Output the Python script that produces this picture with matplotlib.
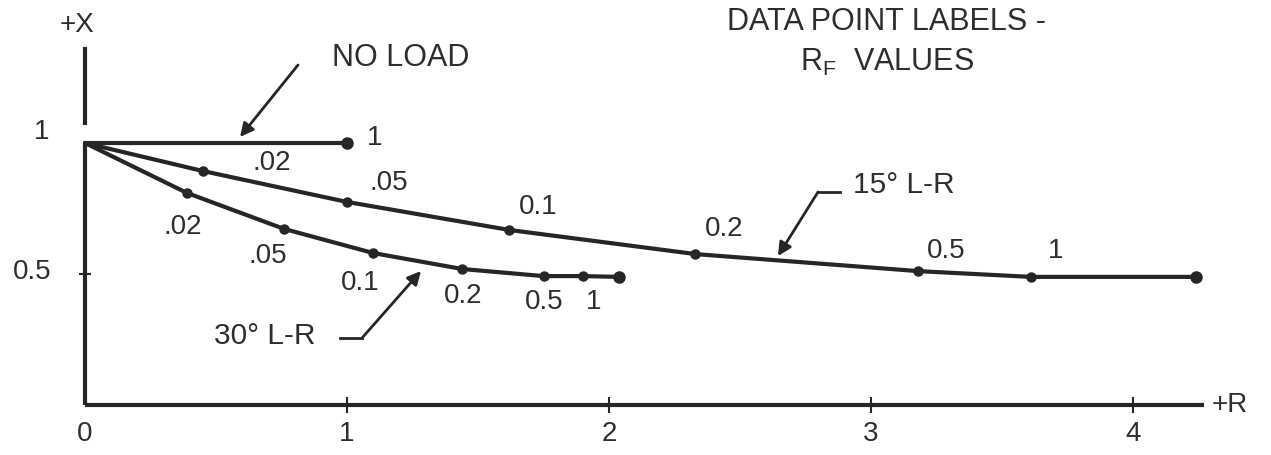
import matplotlib.pyplot as plt

plt.rcParams['font.family'] = ['Liberation Sans', 'DejaVu Sans']

# R / X coordinates of each curve (start point at (0, 1), last point is the end of the line)
r_noload = [0.0, 1.0]
x_noload = [1.0, 1.0]

r_15 = [0.0, 0.45, 1.00, 1.62, 2.33, 3.18, 3.61, 4.24]
x_15 = [1.0, 0.893, 0.775, 0.668, 0.576, 0.511, 0.489, 0.489]

r_30 = [0.0, 0.39, 0.76, 1.10, 1.44, 1.75, 1.90, 2.04]
x_30 = [1.0, 0.809, 0.672, 0.580, 0.519, 0.492, 0.492, 0.489]

# R_F labels for the intermediate points
rf_labels = ['.02', '.05', '0.1', '0.2', '0.5', '1']

x_ticks = [0, 1, 2, 3, 4]
y_ticks = [0.5, 1]

ink = '#262626'
txt = '#2e2e2e'
W, H = 1271, 455

fig = plt.figure(figsize=(W / 100, H / 100), dpi=100)
ax = fig.add_axes([0, 0, 1, 1])
ax.set_xlim(-85 / 262, (W - 85) / 262)
ax.set_ylim((405 - H) / 262, 405 / 262)
ax.axis('off')

# axes drawn by hand (the vertical one has a small gap just above X = 1)
ax.plot([0, 4.27], [0, 0], color=ink, lw=3, solid_capstyle='butt')
ax.plot([0, 0], [0, 1.0], color=ink, lw=3, solid_capstyle='butt')
ax.plot([0, 0], [1.07, 1.366], color=ink, lw=3, solid_capstyle='butt')
ax.plot(x_ticks[1:], [0] * 4, ls='none', marker='|', ms=11, mew=1.5, color=ink)
ax.plot([0], [0.5], ls='none', marker='_', ms=9, mew=1.5, color=ink)

for t in x_ticks:
    ax.annotate(str(t), (t, 0), xytext=(0, -29), textcoords='offset pixels',
                ha='center', va='center', fontsize=20, color=txt)
ax.annotate('1', (0, 1), xytext=(-43, 11), textcoords='offset pixels',
            ha='center', va='center', fontsize=20, color=txt)
ax.annotate('0.5', (0, 0.5), xytext=(-53, 2), textcoords='offset pixels',
            ha='center', va='center', fontsize=20, color=txt)
ax.annotate('+R', (4.27, 0), xytext=(8, 0), textcoords='offset pixels',
            ha='left', va='center', fontsize=20, color=txt)
ax.annotate('+X', (0, 1.366), xytext=(-8, 22), textcoords='offset pixels',
            ha='center', va='center', fontsize=20, color=txt)

# curves
for r, x in [(r_noload, x_noload), (r_15, x_15), (r_30, x_30)]:
    ax.plot(r, x, color=ink, lw=3, solid_capstyle='round')
    ax.plot(r[1:-1], x[1:-1], ls='none', marker='o', ms=6.5, color=ink)
    ax.plot(r[-1:], x[-1:], ls='none', marker='o', ms=8, color=ink)

off_15 = [(69, 8), (42, 19), (29, 23), (29, 25), (28, 20), (25, 26)]
off_30 = [(-4, -34), (-16, -27), (-13, -30), (1, -27), (1, -26), (11, -26)]
for lab, r, x, o in zip(rf_labels, r_15[1:-1], x_15[1:-1], off_15):
    ax.annotate(lab, (r, x), xytext=o, textcoords='offset pixels',
                ha='center', va='center', fontsize=20, color=txt)
for lab, r, x, o in zip(rf_labels, r_30[1:-1], x_30[1:-1], off_30):
    ax.annotate(lab, (r, x), xytext=o, textcoords='offset pixels',
                ha='center', va='center', fontsize=20, color=txt)
ax.annotate('1', (r_noload[-1], x_noload[-1]), xytext=(28, 5), textcoords='offset pixels',
            ha='center', va='center', fontsize=20, color=txt)

# text blocks and leaders (figure pixels, origin bottom-left)
def fp(px, py):
    return (px, H - py)

arrow = dict(arrowstyle='-|>', lw=2, color=ink, mutation_scale=20, shrinkA=0, shrinkB=0)

ax.annotate('NO LOAD', fp(332, 58), xycoords='figure pixels',
            ha='left', va='center', fontsize=22, color=txt)
ax.annotate('', xy=fp(240, 137), xycoords='figure pixels',
            xytext=fp(298, 65), textcoords='figure pixels', arrowprops=arrow)

ax.annotate('DATA POINT LABELS -', fp(727, 22), xycoords='figure pixels',
            ha='left', va='center', fontsize=22, color=txt)
ax.annotate(r'R$_\mathregular{F}$  VALUES', fp(800, 62), xycoords='figure pixels',
            ha='left', va='center', fontsize=22, color=txt)

ax.annotate('15° L-R', fp(853, 185), xycoords='figure pixels',
            ha='left', va='center', fontsize=21.5, color=txt)
ax.plot(*zip(*[fig.transFigure.inverted().transform(fp(840, 192)),
               fig.transFigure.inverted().transform(fp(818, 192))]),
        transform=fig.transFigure, color=ink, lw=2)
ax.annotate('', xy=fp(778, 256), xycoords='figure pixels',
            xytext=fp(818, 192), textcoords='figure pixels', arrowprops=arrow)

ax.annotate('30° L-R', fp(214, 336), xycoords='figure pixels',
            ha='left', va='center', fontsize=21.5, color=txt)
ax.plot(*zip(*[fig.transFigure.inverted().transform(fp(340, 338)),
               fig.transFigure.inverted().transform(fp(362, 338))]),
        transform=fig.transFigure, color=ink, lw=2)
ax.annotate('', xy=fp(421, 271), xycoords='figure pixels',
            xytext=fp(362, 338), textcoords='figure pixels', arrowprops=arrow)

fig.savefig('out.png', dpi=100)
